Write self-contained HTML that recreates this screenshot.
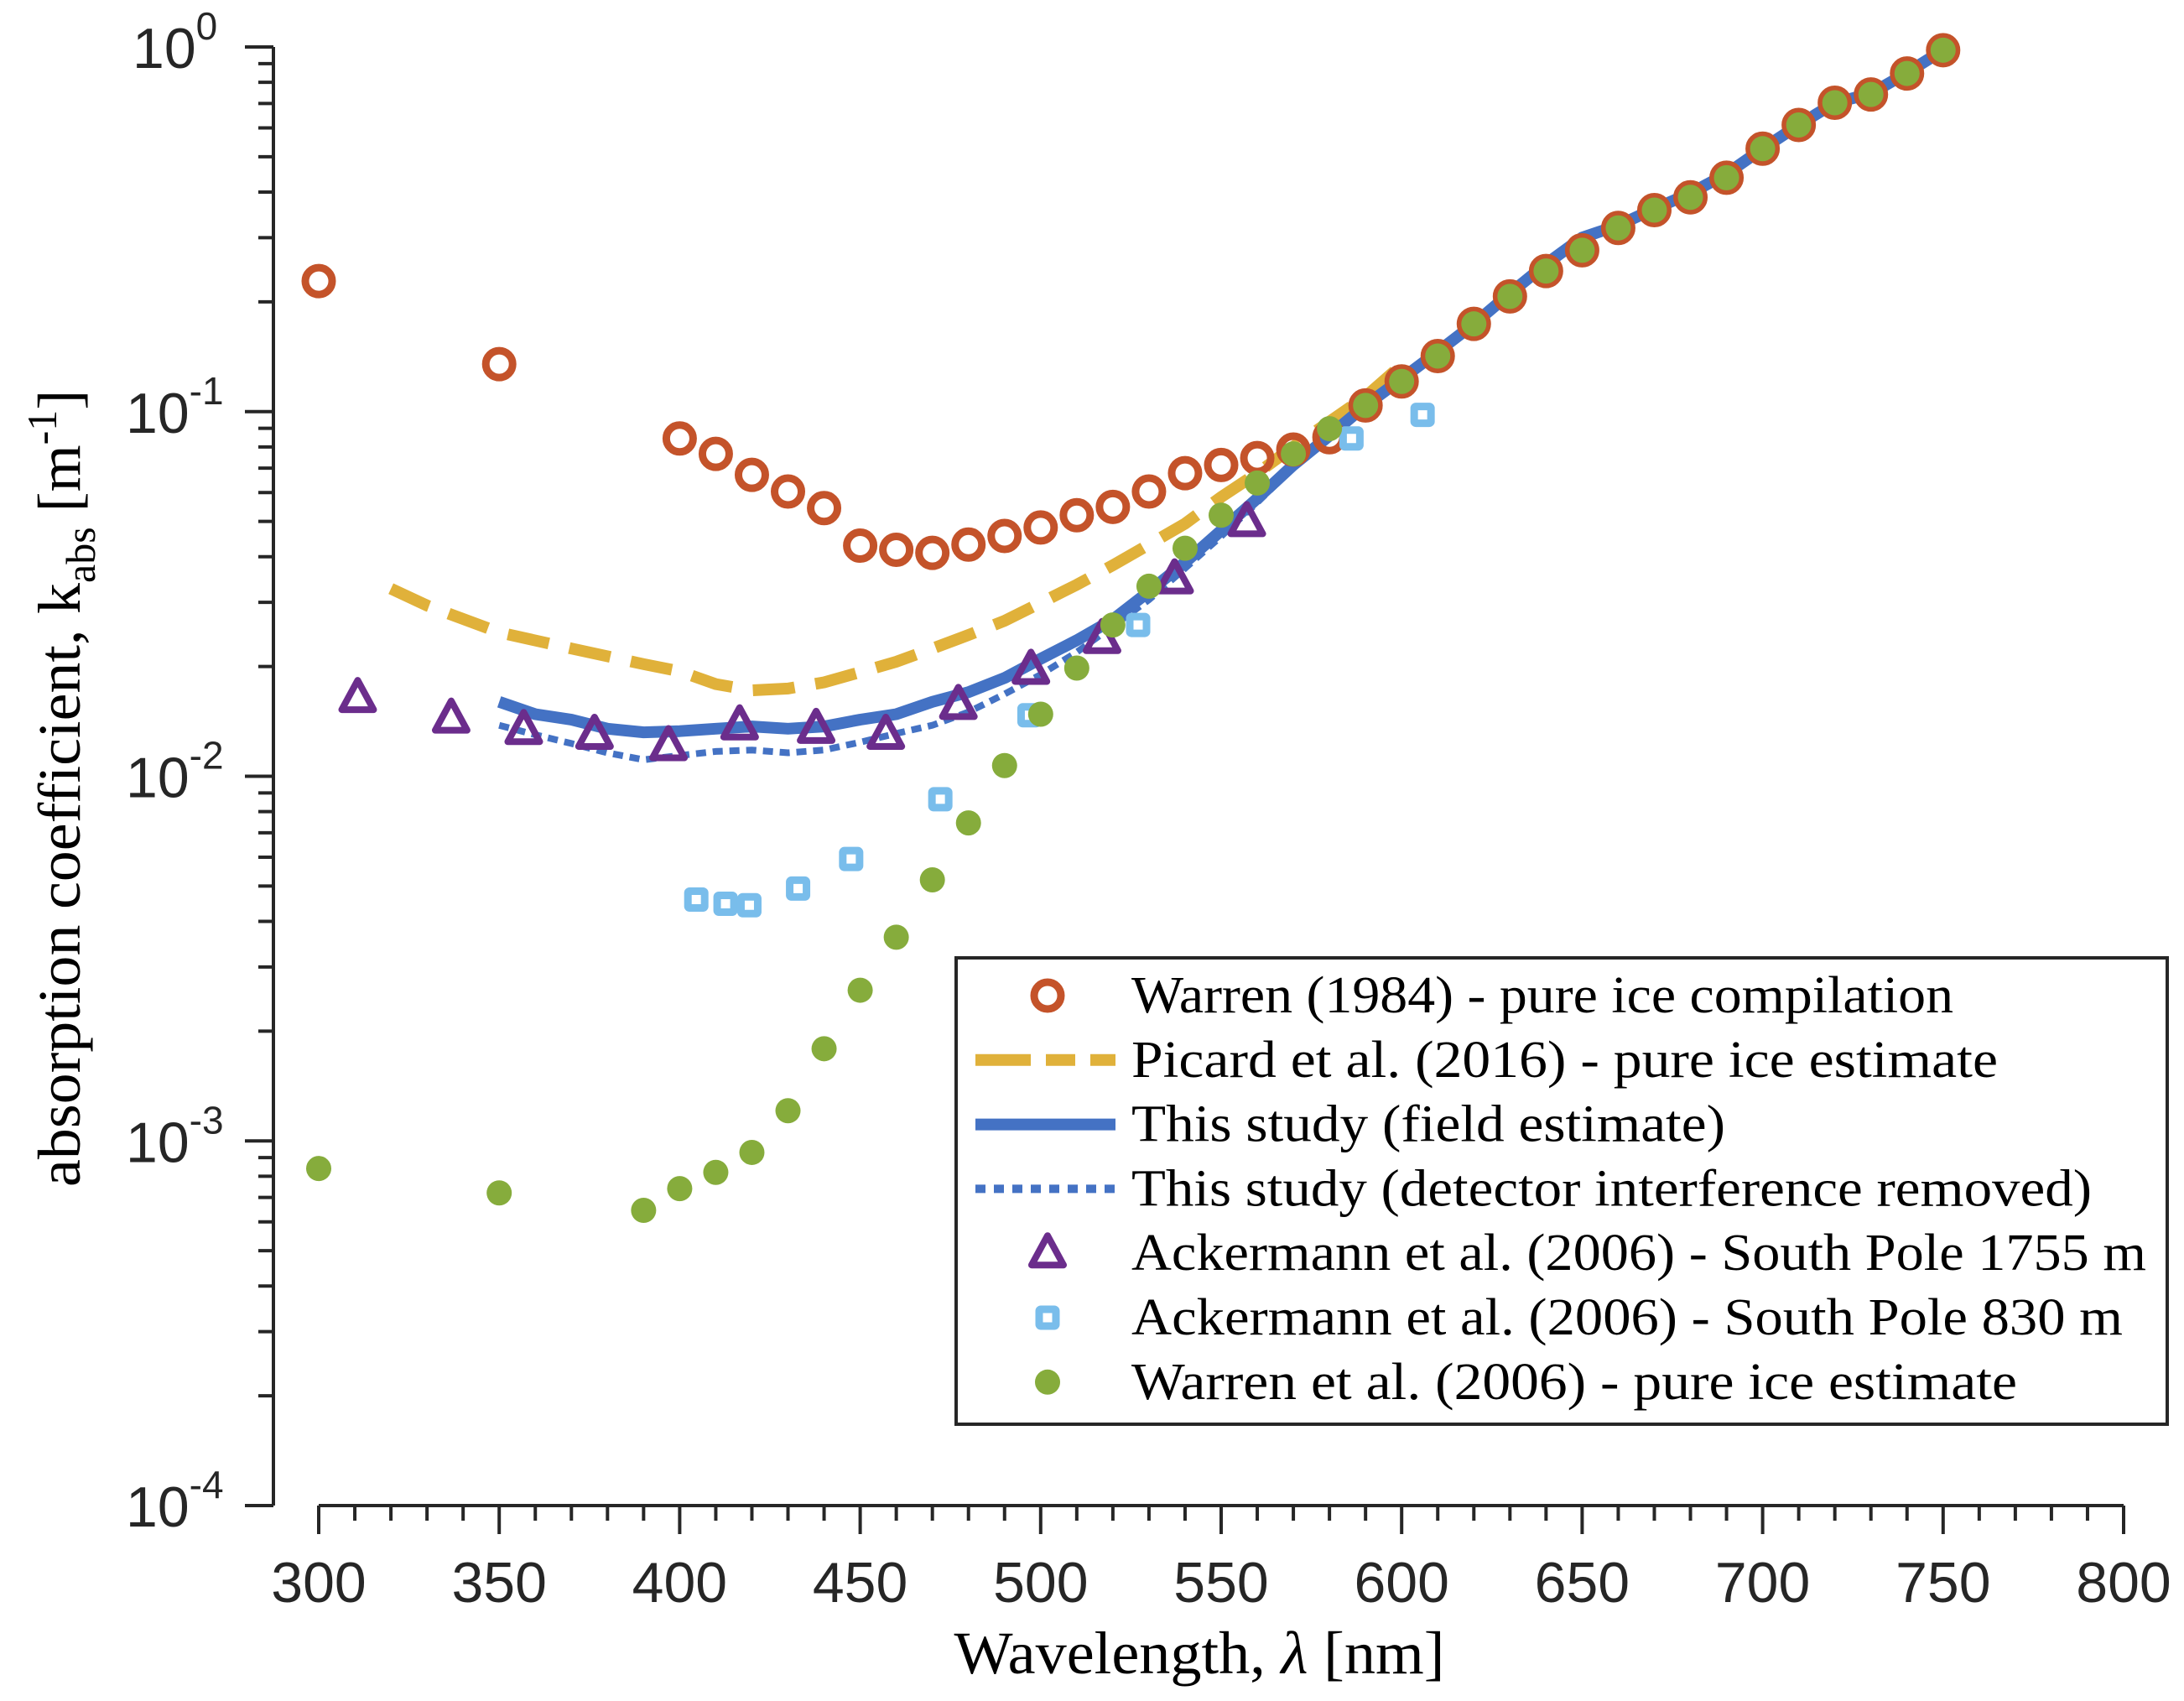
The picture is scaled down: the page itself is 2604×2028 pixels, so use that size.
<!DOCTYPE html>
<html><head><meta charset="utf-8"><style>
html,body{margin:0;padding:0;background:#fff;}
svg{display:block;}
</style></head><body>
<svg id="chart" width="2604" height="2028" viewBox="0 0 2604 2028" xmlns="http://www.w3.org/2000/svg">
<g id="axes"></g>
<g id="series"></g>
<text x="1430" y="1995" text-anchor="middle" font-family="Liberation Serif, serif" font-size="72" textLength="585" lengthAdjust="spacingAndGlyphs" fill="#000">Wavelength, <tspan font-style="italic">λ</tspan> [nm]</text>
<text transform="translate(95,1415) rotate(-90)" font-family="Liberation Serif, serif" font-size="72" fill="#000"><tspan textLength="720" lengthAdjust="spacingAndGlyphs">absorption coefficient, k</tspan><tspan font-size="50" dy="18">abs</tspan><tspan dy="-18"> [m</tspan><tspan font-size="50" dy="-28">-1</tspan><tspan dy="28">]</tspan></text>
<g id="legend"></g>
</svg>
<script>
const warren84X = [300,350,400,410,420,430,440,450,460,470,480,490,500,510,520,530,540,550,560,570,580,590,600,610,620,630,640,650,660,670,680,690,700,710,720,730,740,750];
const warren84Y = [0.228,0.135,0.0844,0.0766,0.0671,0.0604,0.0544,0.0429,0.0418,0.041,0.0432,0.0456,0.0481,0.052,0.0548,0.0604,0.0678,0.0714,0.0746,0.0787,0.0851,0.104,0.121,0.142,0.174,0.207,0.243,0.277,0.319,0.357,0.387,0.438,0.526,0.611,0.703,0.741,0.846,0.98];
const picardX = [320,330,350,370,390,400,410,420,430,440,450,460,470,480,490,500,510,520,530,540,550,560,570,580,590,598];
const picardY = [0.0327,0.0294,0.0248,0.0224,0.0203,0.0194,0.0179,0.0172,0.0174,0.0181,0.0193,0.0206,0.0224,0.0244,0.0267,0.0299,0.0335,0.0379,0.0432,0.0493,0.0583,0.0678,0.0801,0.0938,0.11,0.129];
const fieldX = [350,360,370,380,390,400,410,420,430,440,450,460,470,480,490,500,510,520,530,540,550,560,570,580,590,600,610,620,630,640,650,660,670,680,690,700,710,720,730,740,750];
const fieldY = [0.016,0.0148,0.0143,0.0135,0.0132,0.0133,0.0135,0.0137,0.0135,0.0137,0.0143,0.0148,0.016,0.017,0.0186,0.021,0.0236,0.0269,0.0321,0.0386,0.0472,0.0578,0.0714,0.0859,0.104,0.123,0.146,0.174,0.211,0.254,0.3,0.324,0.36,0.397,0.449,0.526,0.611,0.703,0.745,0.85,0.98];
const removedX = [350,360,370,380,390,400,410,420,430,440,450,460,470,480,490,500,510,520,530,540,550,560,570,580,590,600];
const removedY = [0.0138,0.013,0.0123,0.0116,0.0111,0.0114,0.0117,0.0118,0.0116,0.0118,0.0124,0.0131,0.0138,0.015,0.0168,0.019,0.0219,0.0258,0.0305,0.0372,0.0455,0.0563,0.0703,0.085,0.104,0.123];
const ack1755X = [310.8,336.7,356.8,376.4,396.9,416.6,437.8,457.1,477.2,497.3,517,537.1,557.1];
const ack1755Y = [0.0164,0.0144,0.0134,0.013,0.0121,0.0138,0.0135,0.013,0.0157,0.0196,0.0238,0.0347,0.0498];
const ack830X = [404.6,412.7,419.3,432.8,447.5,472.2,496.9,527,586.1,605.8];
const ack830Y = [0.00459,0.00447,0.00443,0.00492,0.00593,0.00865,0.0147,0.026,0.0844,0.098];
const warren06X = [300,350,390,400,410,420,430,440,450,460,470,480,490,500,510,520,530,540,550,560,570,580,590,600,610,620,630,640,650,660,670,680,690,700,710,720,730,740,750];
const warren06Y = [0.00084,0.00072,0.000645,0.00074,0.00082,0.00093,0.00121,0.00179,0.00259,0.00362,0.0052,0.00745,0.0107,0.0148,0.0198,0.026,0.0332,0.0422,0.052,0.0637,0.0766,0.0898,0.104,0.121,0.142,0.174,0.207,0.243,0.277,0.319,0.357,0.387,0.438,0.526,0.611,0.703,0.741,0.846,0.98];
const xTicks = [300,350,400,450,500,550,600,650,700,750,800];
const yExps = [0,-1,-2,-3,-4];
const legendLabels = ["Warren (1984) - pure ice compilation","Picard et al. (2016) - pure ice estimate","This study (field estimate)","This study (detector interference removed)","Ackermann et al. (2006) - South Pole 1755 m","Ackermann et al. (2006) - South Pole 830 m","Warren et al. (2006) - pure ice estimate"];

const NS = "http://www.w3.org/2000/svg";
const X = nm => 380 + (nm - 300) * (2532 - 380) / 500;
const Y = v => 56 - Math.log10(v) * (1795 - 56) / 4;
function mk(tag, attrs, parent) {
  const e = document.createElementNS(NS, tag);
  for (const k in attrs) e.setAttribute(k, attrs[k]);
  parent.appendChild(e);
  return e;
}
const AX = document.getElementById('axes');
const S = document.getElementById('series');
const L = document.getElementById('legend');
const ac = '#262626';
let yl = mk('line', {x1:326, y1:56, x2:326, y2:1795, stroke:ac, 'stroke-width':4}, AX);


let xl = mk('line', {x1:380, y1:1795, x2:2532, y2:1795, stroke:ac, 'stroke-width':4}, AX);


for (let nm = 300; nm <= 800; nm += 10) {
  const major = nm % 50 === 0;
  let t = mk('line', {x1:X(nm), y1:1795, x2:X(nm), y2: major ? 1829 : 1813, stroke:ac, 'stroke-width':4}, AX);
  
  
}
xTicks.forEach(v => {
  let t = mk('text', {x:X(v), y:1910, 'text-anchor':'middle', 'font-family':'Liberation Sans, sans-serif', 'font-size':68, fill:ac}, AX);
  t.textContent = v;
  
  
});
for (let e = -4; e <= 0; e++) {
  let t = mk('line', {x1:292, y1:Y(Math.pow(10,e)), x2:326, y2:Y(Math.pow(10,e)), stroke:ac, 'stroke-width':4}, AX);
  
  
  if (e < 0) for (let m = 2; m <= 9; m++) {
    const yy = Y(m * Math.pow(10, e));
    let mt = mk('line', {x1:308, y1:yy, x2:326, y2:yy, stroke:ac, 'stroke-width':4}, AX);
    
    
  }
}
yExps.forEach(e => {
  const yy = Y(Math.pow(10, e));
  let t = mk('text', {x: e === 0 ? 158 : 150, y: yy + 25, 'font-family':'Liberation Sans, sans-serif', 'font-size':68, fill:ac}, AX);
  
  
  t.innerHTML = '10<tspan font-size="46" dy="-34">' + e + '</tspan>';
});
function path(xs, ys) { return xs.map((x,i) => (i?'L':'M') + X(x).toFixed(1) + ' ' + Y(ys[i]).toFixed(1)).join(' '); }
let pk = mk('path', {d:path(picardX, picardY), fill:'none', stroke:'#E0B13A', 'stroke-width':14, 'stroke-dasharray':'50 25'}, S);


let fd = mk('path', {d:path(fieldX, fieldY), fill:'none', stroke:'#4472C4', 'stroke-width':14, 'stroke-linejoin':'round'}, S);


let rm = mk('path', {d:path(removedX, removedY), fill:'none', stroke:'#4472C4', 'stroke-width':8, 'stroke-dasharray':'12 8'}, S);


function circle(cx, cy, g) { return mk('circle', {cx, cy, r:16, fill:'none', stroke:'#C4532A', 'stroke-width':9}, g); }
function tri(cx, cy, g) { return mk('path', {d:`M${cx} ${cy-21} L${cx+19} ${cy+14} L${cx-19} ${cy+14} Z`, fill:'none', stroke:'#6B2D8C', 'stroke-width':8, 'stroke-linejoin':'round'}, g); }
function sq(cx, cy, g) { return mk('rect', {x:cx-10, y:cy-10, width:20, height:20, fill:'none', stroke:'#79BDEB', 'stroke-width':9, rx:2}, g); }
function dot(cx, cy, g) { return mk('circle', {cx, cy, r:15, fill:'#86AC3C'}, g); }
warren84X.forEach((x,i) => { let e = circle(X(x), Y(warren84Y[i]), S);
  
   });
ack1755X.forEach((x,i) => { let e = tri(X(x), Y(ack1755Y[i]), S);
  
   });
ack830X.forEach((x,i) => { let e = sq(X(x), Y(ack830Y[i]), S);
  
   });
warren06X.forEach((x,i) => { let e = dot(X(x), Y(warren06Y[i]), S);
  
   });
let box = mk('rect', {x:1140, y:1142, width:1444, height:556, fill:'#fff', stroke:ac, 'stroke-width':4}, L);


const rowY = i => 1187 + i * 76.8;
const tlens = [980, 1033, 708, 1145, 1210, 1182, 1056];
legendLabels.forEach((lab, i) => {
  const y = rowY(i);
  let t = mk('text', {x:1349, y:y + 20, 'font-family':'Liberation Serif, serif', 'font-size':62, fill:'#000', textLength:tlens[i], lengthAdjust:'spacingAndGlyphs'}, L);
  t.textContent = lab;
  
  
  let m;
  if (i === 0) m = circle(1249, y, L);
  if (i === 1) m = mk('line', {x1:1163, y1:y, x2:1330, y2:y, stroke:'#E0B13A', 'stroke-width':14, 'stroke-dasharray':'66 18 35 18 35'}, L);
  if (i === 2) m = mk('line', {x1:1163, y1:y, x2:1330, y2:y, stroke:'#4472C4', 'stroke-width':14}, L);
  if (i === 3) m = mk('line', {x1:1163, y1:y, x2:1330, y2:y, stroke:'#4472C4', 'stroke-width':10, 'stroke-dasharray':'12 10'}, L);
  if (i === 4) m = tri(1249, y, L);
  if (i === 5) m = sq(1249, y, L);
  if (i === 6) m = dot(1249, y, L);
  
  
});
</script>
</body></html>
